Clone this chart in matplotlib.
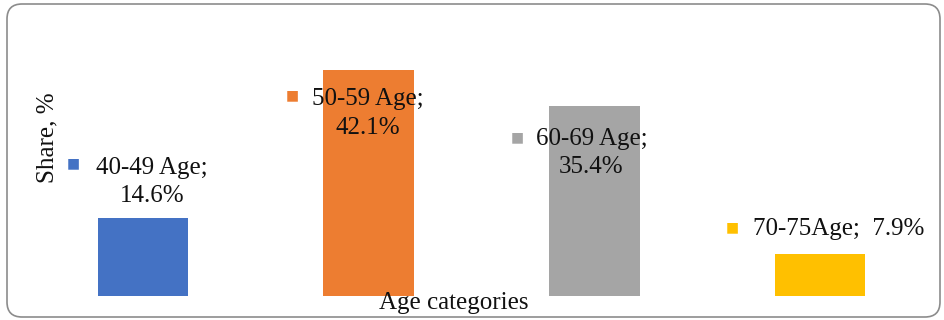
import matplotlib
matplotlib.use("Agg")
import matplotlib.pyplot as plt
from matplotlib.patches import FancyBboxPatch

# Data
categories = ["40-49 Age", "50-59 Age", "60-69 Age", "70-75Age"]
shares = [14.6, 42.1, 35.4, 7.9]
label_texts = ["40-49 Age;\n14.6%", "50-59 Age;\n42.1%", "60-69 Age;\n35.4%", "70-75Age;  7.9%"]

# Styling
colors = ["#4472C4", "#ED7D31", "#A5A5A5", "#FFC000"]
text_offsets = [(9, 36), (-1, -43), (-3, -47), (19, 25)]     # pixels from bar top
marker_offsets = [(-70, 54), (-76, -25), (-77, -31), (-88, 26)]
font = "Liberation Serif"
fs = 18

W, H, DPI = 944, 320, 100
fig = plt.figure(figsize=(W / DPI, H / DPI), dpi=DPI)

# Rounded chart border (inch units so the corners stay circular)
border = FancyBboxPatch((0.07, 0.03), 9.33, 3.13,
                        boxstyle="round,pad=0,rounding_size=0.15",
                        transform=fig.dpi_scale_trans, facecolor="none",
                        edgecolor="#8c8c8c", linewidth=1.2, zorder=-1)
fig.patches.append(border)

ax = fig.add_axes([30 / W, (H - 296) / H, (933 - 30) / W, (296 - 28) / H])
ax.set_facecolor("none")
x = list(range(len(categories)))
ax.bar(x, shares, width=0.4, color=colors, zorder=2)
ax.set_xlim(-0.5, len(categories) - 0.5)
ax.set_ylim(0, 50)
for s in ax.spines.values():
    s.set_visible(False)
ax.set_xticks([])
ax.set_yticks([])

for xi, v, txt, c, (dx, dy), (mx, my) in zip(x, shares, label_texts, colors,
                                             text_offsets, marker_offsets):
    ax.annotate(txt, (xi, v), xytext=(dx, dy), textcoords="offset pixels",
                ha="center", va="center", multialignment="center",
                fontfamily=font, fontsize=fs, color="#111111", zorder=4,
                linespacing=1.38)
    ax.annotate("\u25A0", (xi, v), xytext=(mx, my), textcoords="offset pixels",
                ha="center", va="center", fontsize=10, color=c,
                fontfamily="DejaVu Sans", zorder=4)

fig.text(454 / W, 1 - 303 / H, "Age categories", ha="center", va="center",
         fontfamily=font, fontsize=fs, color="#111111")
fig.text(47 / W, 1 - 138 / H, "Share, %", ha="center", va="center",
         rotation=90, fontfamily=font, fontsize=fs, color="#111111")

fig.savefig("out.png", dpi=DPI)
